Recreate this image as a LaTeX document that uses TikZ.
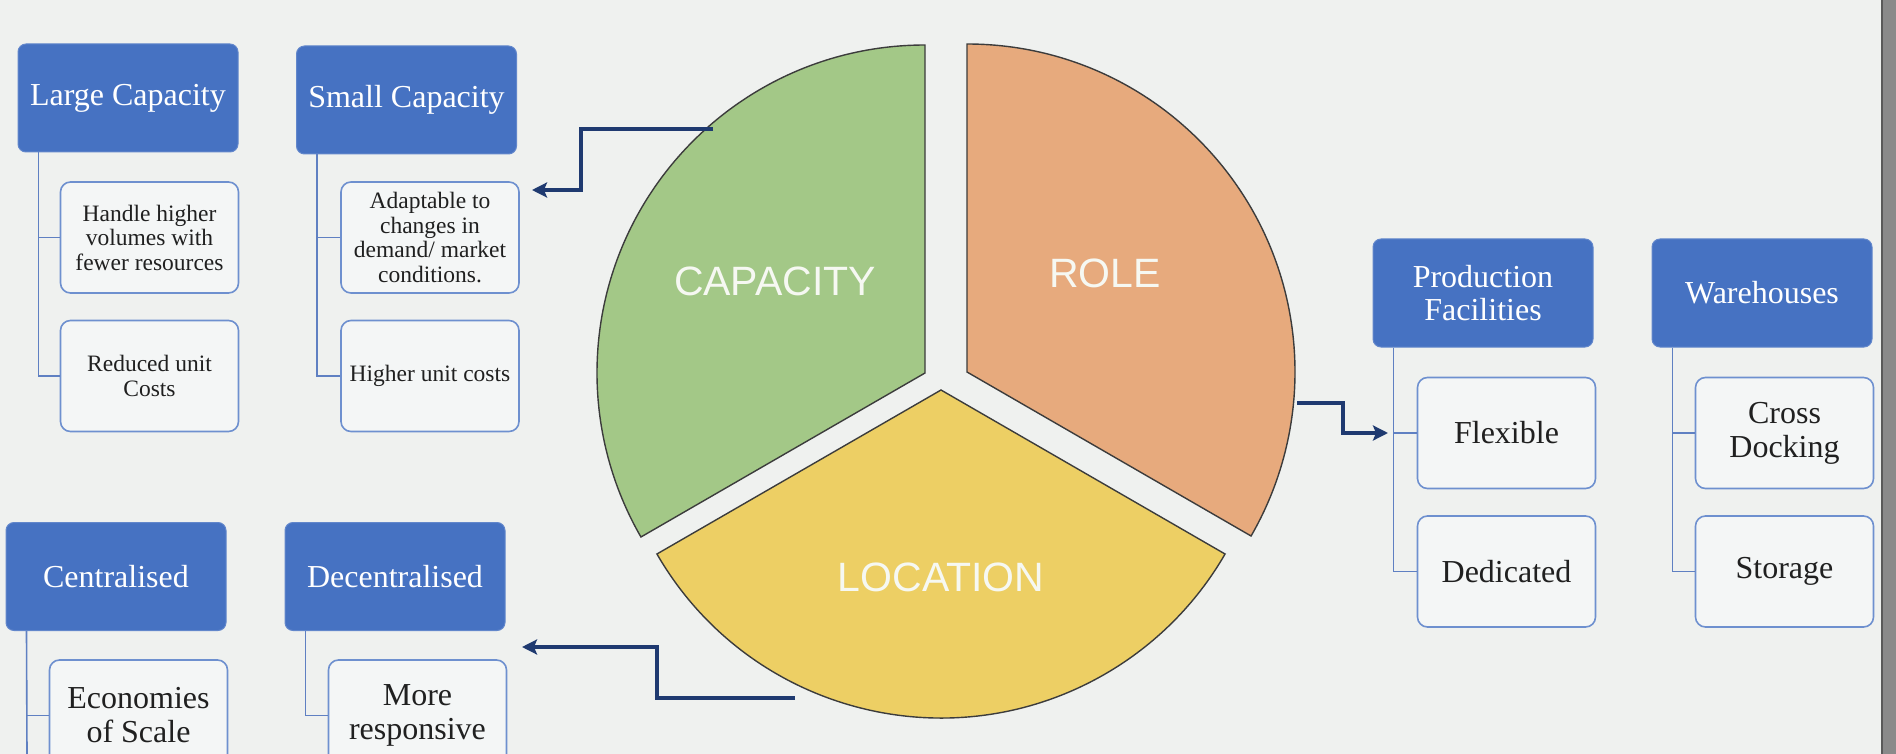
\documentclass[tikz,border=0pt]{standalone}
\usepackage{fontspec}
\setmainfont{Liberation Serif}
\newfontfamily\piefont{Liberation Sans}
\usetikzlibrary{arrows.meta}
\definecolor{bgc}{HTML}{EFF1EF}
\definecolor{hdrblue}{HTML}{4672C2}
\definecolor{kidblue}{HTML}{6E90CF}
\definecolor{treeblue}{HTML}{5F80C2}
\definecolor{kidfill}{HTML}{F4F6F6}
\definecolor{kidtext}{HTML}{202020}
\definecolor{navy}{HTML}{1F3A70}
\definecolor{pgreen}{HTML}{A3C887}
\definecolor{porange}{HTML}{E7AA7D}
\definecolor{pyellow}{HTML}{EDCF64}
\definecolor{pieedge}{HTML}{3C3C3C}
\definecolor{pietext}{HTML}{F6F8F2}
\definecolor{stripgray}{HTML}{8A8A8A}
\definecolor{stripdark}{HTML}{5A5A5A}
\tikzset{
  hdr/.style={rectangle, rounded corners=8pt, fill=hdrblue, draw=hdrblue!85!white, line width=1pt,
    text=white, minimum width=220pt, minimum height=108pt, align=center, inner sep=0pt,
    font=\fontsize{32}{33}\selectfont},
  kid/.style={rectangle, rounded corners=10pt, fill=kidfill, draw=kidblue, line width=1.6pt,
    text=kidtext, minimum width=178pt, minimum height=111pt, align=center, inner sep=0pt,
    font=\fontsize{32}{34}\selectfont},
  kidsmall/.style={kid, font=\fontsize{23.5}{24.5}\selectfont},
  tree/.style={draw=treeblue, line width=1.6pt},
  navyarrow/.style={draw=navy, line width=4pt, -{Stealth[length=15pt,width=15pt,inset=3pt]}},
  pie/.style={draw=pieedge, line width=1.4pt},
  pielabel/.style={text=pietext, font=\piefont\fontsize{41}{41}\selectfont}
}
\begin{document}
\begin{tikzpicture}[x=1pt,y=1pt]
\useasboundingbox (0,0) rectangle (1896,-754);
\fill[bgc] (0,0) rectangle (1896,-754);
\fill[stripgray] (1881,0) rectangle (1896,-754);
\draw[stripdark, line width=2pt] (1882,0) -- (1882,-754);

% pie
\path[pie, fill=pgreen] (925,-373) -- (925,-45) arc[start angle=90, end angle=210, radius=328] -- cycle;
\path[pie, fill=porange] (967,-372) -- (967,-44) arc[start angle=90, end angle=-30, radius=328] -- cycle;
\path[pie, fill=pyellow] (941,-390) -- (656.94,-554) arc[start angle=210, end angle=330, radius=328] -- cycle;
\node[pielabel] (capl) at (775,-281) {CAPACITY};
\node[pielabel] (rolel) at (1105,-273) {ROLE};
\node[pielabel] (locl) at (941,-577) {LOCATION};

% capacity boxes
\node[hdr] (LC) at (128,-98) {Large Capacity};
\node[hdr] (SC) at (406.5,-100) {Small Capacity};
\node[kidsmall] (H1) at (149.5,-237.5) {Handle higher\\volumes with\\fewer resources};
\node[kidsmall] (H2) at (149.5,-376) {Reduced unit\\Costs};
\node[kidsmall] (S1) at (430,-237.5) {Adaptable to\\changes in\\demand/ market\\conditions.};
\node[kidsmall] (S2) at (430,-376) {Higher unit costs};
\draw[tree] ([xshift=21pt]LC.south west) |- (H1.west);
\draw[tree] ([xshift=21pt]LC.south west) |- (H2.west);
\draw[tree] ([xshift=21pt]SC.south west) |- (S1.west);
\draw[tree] ([xshift=21pt]SC.south west) |- (S2.west);

% location boxes
\node[hdr] (CE) at (116,-576.5) {Centralised};
\node[hdr] (DE) at (395,-576.5) {Decentralised};
\node[kid] (EC) at (138.5,-715.5) {Economies\\of Scale};
\node[kid] (MR) at (417.5,-715.5) {More\\responsive};
\coordinate (cend) at (27,-754);
\draw[tree] ([xshift=21pt]CE.south west) |- (EC.west);
\draw[tree] ([xshift=21pt]CE.south west) -- (cend);
\draw[tree] ([xshift=21pt]DE.south west) |- (MR.west);

% role boxes
\node[hdr] (PF) at (1483,-293) {Production\\Facilities};
\node[hdr] (WH) at (1762,-293) {Warehouses};
\node[kid] (FL) at (1506.5,-433) {Flexible};
\node[kid] (DD) at (1506.5,-571.5) {Dedicated};
\node[kid] (CD) at (1784.5,-433) {Cross\\Docking};
\node[kid] (ST) at (1784.5,-571.5) {Storage};
\draw[tree] ([xshift=21pt]PF.south west) |- (FL.west);
\draw[tree] ([xshift=21pt]PF.south west) |- (DD.west);
\draw[tree] ([xshift=21pt]WH.south west) |- (CD.west);
\draw[tree] ([xshift=21pt]WH.south west) |- (ST.west);

% navy arrows
\coordinate (a1s) at (713,-129);
\coordinate (a1e) at (532,-190);
\coordinate (a2s) at (1297,-403);
\coordinate (a2e) at (1388,-433);
\coordinate (a3s) at (795,-698);
\coordinate (a3e) at (522,-647);
\draw[navyarrow] (a1s) -- (581,-129) |- (a1e);
\draw[navyarrow] (a2s) -- (1343,-403) |- (a2e);
\draw[navyarrow] (a3s) -- (657,-698) |- (a3e);
\end{tikzpicture}
\end{document}
